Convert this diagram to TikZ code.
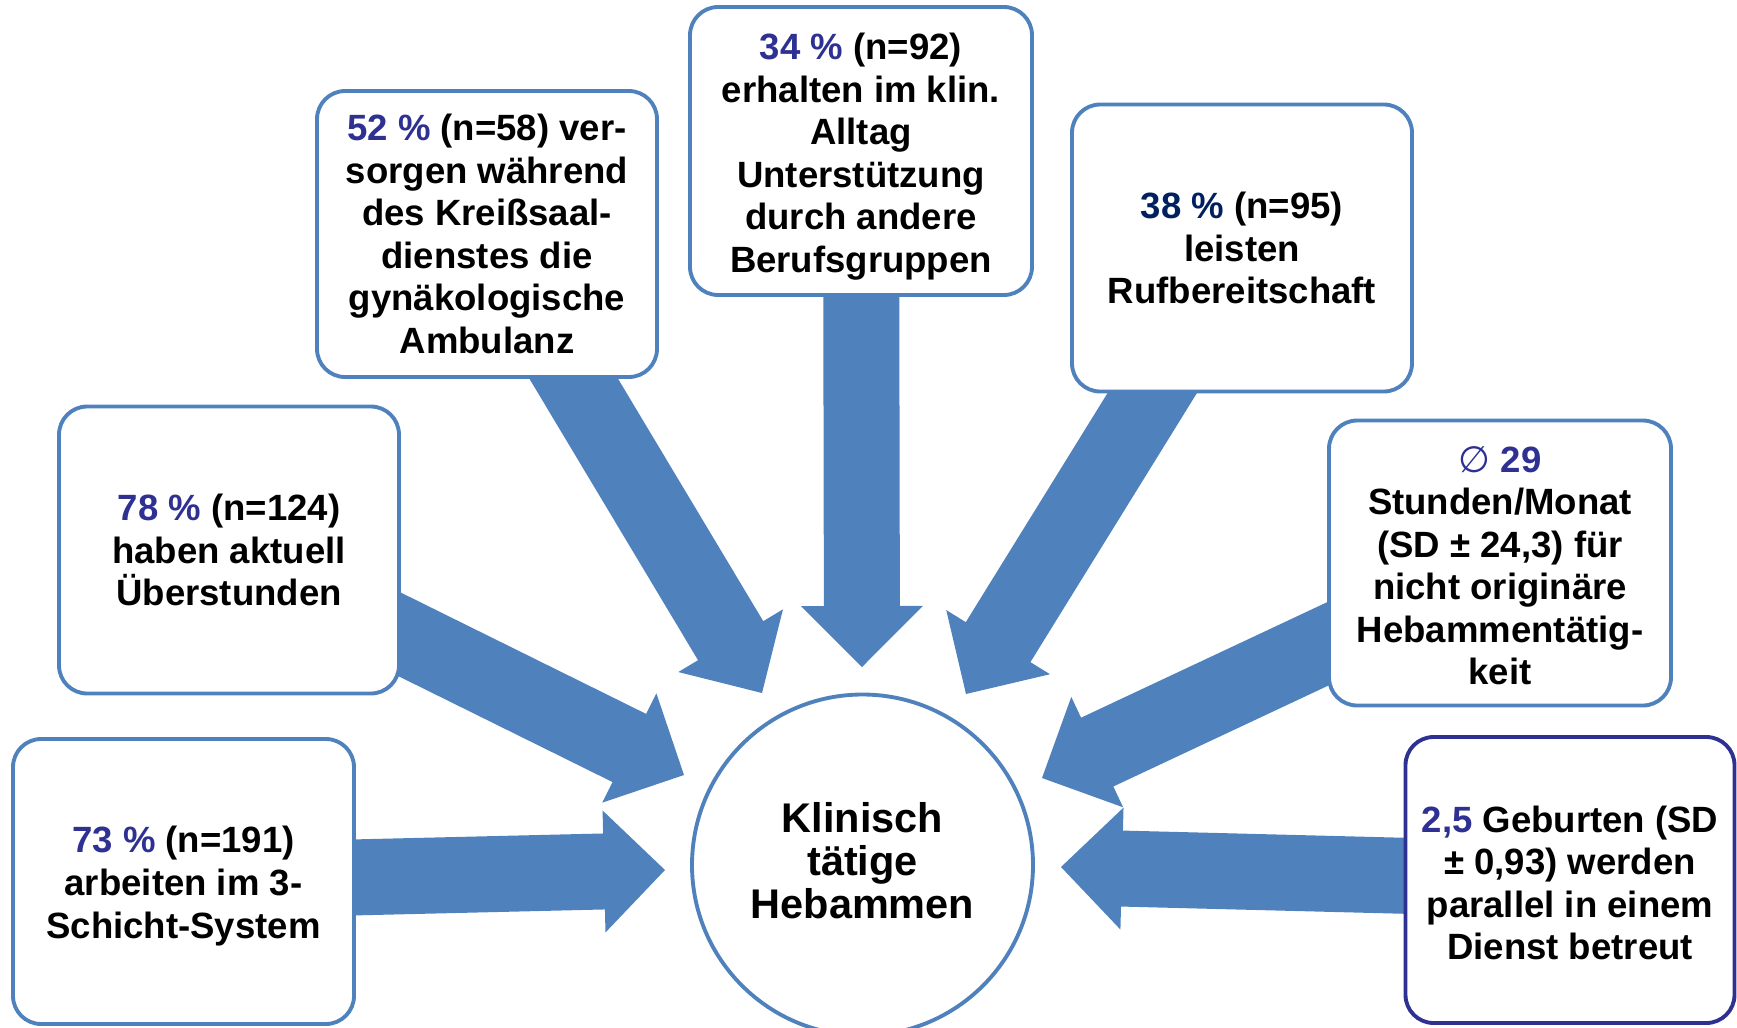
\documentclass[tikz,border=0pt]{standalone}
\usepackage{fontspec}
\setmainfont{Liberation Sans}
\newfontfamily\symfont{DejaVu Sans}
\usetikzlibrary{calc}
\definecolor{arrowblue}{RGB}{79,129,189}
\definecolor{numblue}{RGB}{46,49,146}
\definecolor{numnavy}{RGB}{0,32,96}
\tikzset{
	infobox/.style={draw=arrowblue, line width=1.1pt, fill=white, rounded corners=8pt, minimum width=3.4cm, minimum height=2.86cm, align=center, inner sep=1pt, font=\fontsize{10.4}{12.1}\selectfont\bfseries},
	hub/.style={draw=arrowblue, line width=1.1pt, fill=white, circle, minimum size=3.41cm, align=center, font=\fontsize{11.8}{12.3}\selectfont\bfseries},
}
% block arrow from #1 to the tip #2
\newcommand{\blockarrow}[2]{%
	\coordinate (hb) at ($(#2)!0.61cm!(#1)$);
	\fill[arrowblue] ($(#1)!0.38cm!-90:(#2)$) -- ($(hb)!0.38cm!-90:(#2)$) -- ($(hb)!0.61cm!-90:(#2)$) -- (#2)
		-- ($(hb)!0.61cm!90:(#2)$) -- ($(hb)!0.38cm!90:(#2)$) -- ($(#1)!0.38cm!90:(#2)$) -- cycle;
}
\newcommand{\hl}[1]{\textcolor{numblue}{#1}}
% struts to move the text block a little up or down
\newcommand{\topstrut}[1]{\rule{0pt}{#1}}
\newcommand{\botstrut}[1]{\rule[-#1]{0pt}{0pt}}
\begin{document}
\begin{tikzpicture}
	\useasboundingbox (0,0) rectangle (17.37,-10.27);
	
	% centres of the boxes
	\coordinate (c73) at (1.835,-8.815);
	\coordinate (c78) at (2.29,-5.50);
	\coordinate (c52) at (4.87,-2.34);
	\coordinate (c34) at (8.61,-1.51);
	\coordinate (c38) at (12.42,-2.48);
	\coordinate (c29) at (15.00,-5.63);
	\coordinate (c25) at (15.70,-8.80);
	
	% arrow tips
	\coordinate (t73) at (6.65,-8.70);
	\coordinate (t78) at (6.84,-7.75);
	\coordinate (t52) at (7.62,-6.93);
	\coordinate (t34) at (8.62,-6.67);
	\coordinate (t38) at (9.66,-6.94);
	\coordinate (t29) at (10.42,-7.78);
	\coordinate (t25) at (10.61,-8.67);
	
	% arrows first, boxes on top
	\foreach \k in {73,78,52,34,38,29,25}{
		\blockarrow{c\k}{t\k}
	}
	
	\node[hub] (hebammen) at (8.625,-8.65) {Klinisch\\t\"atige\\Hebammen\botstrut{0.9mm}};
	
	\node[infobox, minimum width=3.41cm, minimum height=2.85cm] (b73) at (c73) {\topstrut{3.55mm}\hl{73 \%} (n=191)\\arbeiten im 3-\\Schicht-System};
	\node[infobox, minimum height=2.87cm] (b78) at (c78) {\hl{78 \%} (n=124)\\haben aktuell\\\"Uberstunden};
	\node[infobox] (b52) at (c52) {\hl{52 \%} (n=58) ver-\\sorgen w\"ahrend\\des Krei\ss saal-\\dienstes die\\gyn\"akologische\\Ambulanz};
	\node[infobox, minimum width=3.42cm, minimum height=2.88cm] (b34) at (c34) {\topstrut{3.8mm}\hl{34 \%} (n=92)\\erhalten im klin.\\Alltag\\Unterst\"utzung\\durch andere\\Berufsgruppen};
	\node[infobox, minimum height=2.87cm] (b38) at (c38) {\textcolor{numnavy}{38 \%} (n=95)\\leisten\\Rufbereitschaft};
	\node[infobox, minimum width=3.42cm, minimum height=2.85cm] (b29) at (c29) {\topstrut{3.1mm}\hl{{\symfont\mdseries ∅} 29}\\Stunden/Monat\\(SD ± 24,3) f\"ur\\nicht origin\"are\\Hebamment\"atig-\\keit};
	\node[infobox, draw=numblue, minimum width=3.29cm] (b25) at (c25) {\topstrut{3.2mm}\hl{2,5} Geburten (SD\\± 0,93) werden\\parallel in einem\\Dienst betreut};
\end{tikzpicture}
\end{document}
